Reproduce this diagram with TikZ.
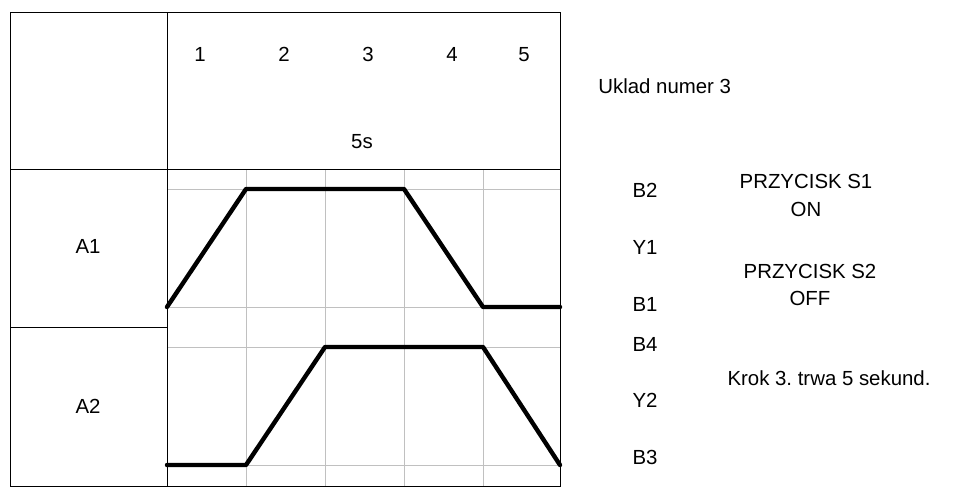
\documentclass[tikz,border=0pt]{standalone}
\usepackage{fontspec}
\setmainfont{Liberation Sans}
\usepackage{xcolor}
\usepackage{tikz}
\definecolor{gridgray}{HTML}{C0C0C0}
\frenchspacing

\begin{document}
\begin{tikzpicture}[x=0.5pt, y=-0.5pt, font=\fontsize{10.2}{12}\selectfont,
    lbl/.style={inner sep=0pt, text height=7.3pt, text depth=0pt},
    frame/.style={draw=black, line width=0.5pt},
    gridline/.style={draw=gridgray, line width=0.5pt},
    wave/.style={draw=black, line width=2.2pt, line cap=round, line join=round}]
    \useasboundingbox (0, 0) rectangle (977, 498);

    % grid
    \draw[gridline] (246, 169) -- (246, 486);
    \draw[gridline] (325, 169) -- (325, 486);
    \draw[gridline] (404, 169) -- (404, 486);
    \draw[gridline] (483, 169) -- (483, 486);
    \draw[gridline] (167, 189) -- (560, 189);
    \draw[gridline] (167, 307) -- (560, 307);
    \draw[gridline] (167, 347) -- (560, 347);
    \draw[gridline] (167, 465) -- (560, 465);

    % table
    \draw[frame] (10, 12) rectangle (560, 486);
    \draw[frame] (167, 12) -- (167, 486);
    \draw[frame] (10, 169) -- (560, 169);
    \draw[frame] (10, 327) -- (167, 327);

    \node[lbl] at (200, 54) (t1) {1};
    \node[lbl] at (284, 54) (t2) {2};
    \node[lbl] at (368, 54) (t3) {3};
    \node[lbl] at (452, 54) (t4) {4};
    \node[lbl] at (524, 54) (t5) {5};
    \node[lbl] at (362, 141) (tsum) {5s};
    \node[lbl] at (88, 246) (a1) {A1};
    \node[lbl] at (88, 406) (a2) {A2};

    % waveforms
    \draw[wave] (167, 307) -- (246, 189) -- (404, 189) -- (483, 307) -- (560, 307);
    \draw[wave] (167, 465) -- (246, 465) -- (325, 347) -- (483, 347) -- (560, 465);

    % labels on the right
    \node[lbl, anchor=west] at (598, 86) (title) {Uklad numer 3};
    \node[lbl] at (645, 190) (b2) {B2};
    \node[lbl] at (645, 247) (y1) {Y1};
    \node[lbl] at (645, 304) (b1) {B1};
    \node[lbl] at (645, 344) (b4) {B4};
    \node[lbl] at (645, 400) (y2) {Y2};
    \node[lbl] at (645, 457) (b3) {B3};

    \node[lbl] at (806, 181) (s1) {PRZYCISK S1};
    \node[lbl] at (806, 209) (s1on) {ON};
    \node[lbl] at (810, 271) (s2) {PRZYCISK S2};
    \node[lbl] at (810, 298) (s2off) {OFF};
    \node[lbl] at (829, 378) (krok) {Krok 3. trwa 5 sekund.};
\end{tikzpicture}
\end{document}
